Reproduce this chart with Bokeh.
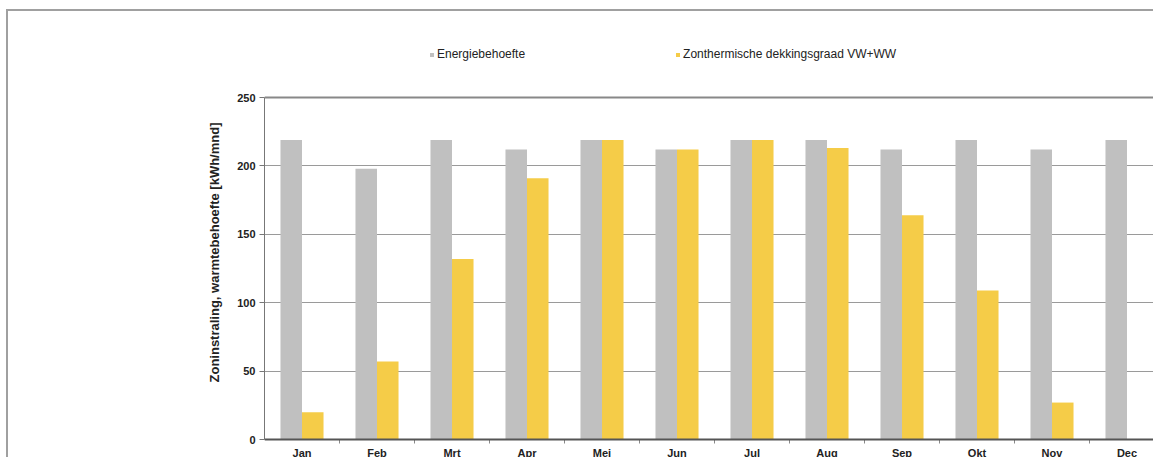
from bokeh.plotting import figure
from bokeh.models import Range1d, FixedTicker, Legend, LegendItem, Span, ColumnDataSource, Title
from bokeh.core.properties import value
from bokeh.transform import dodge
from bokeh.embed import file_html
from bokeh.resources import INLINE

months = ["Jan", "Feb", "Mrt", "Apr", "Mei", "Jun", "Jul", "Aug", "Sep", "Okt", "Nov", "Dec"]
energiebehoefte = [219, 198, 219, 212, 219, 212, 219, 219, 212, 219, 212, 219]
zonthermisch = [20, 57, 132, 191, 219, 212, 219, 213, 164, 109, 27, 0]
y_ticks = [0, 50, 100, 150, 200, 250]

FONT = "Liberation Sans"
GRAY = "#c0c0c0"
YELLOW = "#f5cc48"

src = ColumnDataSource(dict(
    x=[i + 0.5 for i in range(len(months))],
    month=months,
    e=energiebehoefte,
    z=zonthermisch,
))
bsrc = ColumnDataSource(dict(b=[i for i in range(1, len(months))]))

# pixel layout: figure from y=11 to 457, value 250 at y=97, value 0 at y=439
ppu = (439 - 97) / 250.0
y_end = 250 + (97 - 11) / ppu
y_start = -(457 - 439) / ppu

p = figure(width=1145, height=446,
           x_range=Range1d(0, 889 / 75), y_range=Range1d(y_start, y_end),
           x_axis_location=None,
           output_backend="svg", toolbar_location=None,
           min_border_left=256, min_border_right=0,
           min_border_top=0, min_border_bottom=0)
p.margin = (11, 0, 0, 8)
p.styles = {"outline": "2px solid #a0a0a0"}

bw = 0.287
r1 = p.vbar(x=dodge("x", -0.1435), top="e", width=bw, source=src, fill_color=GRAY, line_color=None)
r2 = p.vbar(x=dodge("x", 0.1435), top="z", width=bw, source=src, fill_color=YELLOW, line_color=None)

p.outline_line_color = None
p.add_layout(Span(location=250, dimension="width", line_color="#888888", line_width=2))

# grid
p.xgrid.grid_line_color = None
p.xgrid.visible = False
p.ygrid.ticker = FixedTicker(ticks=y_ticks)
p.ygrid.grid_line_color = "#9a9a9a"
p.ygrid.grid_line_width = 1
p.ygrid.bounds = (0, 250)

# x axis line, boundary ticks and month labels
p.add_layout(Span(location=0, dimension="width", line_color="#555555", line_width=2))
p.segment(x0="b", x1="b", y0=0, y1=-4 / ppu, source=bsrc, line_color="#888888", line_width=1)
p.text(x="x", y=0, text="month", source=src, y_offset=13,
       text_font=value(FONT), text_font_style="bold", text_font_size="11px",
       text_color="#222222", text_align="center", text_baseline="middle")

# y axis
ya = p.yaxis[0]
ya.ticker = FixedTicker(ticks=y_ticks)
ya.bounds = (0, 250)
ya.axis_line_color = "#777777"
ya.axis_line_width = 1
ya.major_tick_line_color = "#777777"
ya.major_tick_out = 5
ya.major_tick_in = 0
ya.minor_tick_line_color = None
ya.major_label_text_font = FONT
ya.major_label_text_font_style = "bold"
ya.major_label_text_font_size = "11px"
ya.major_label_text_color = "#222222"
ya.major_label_standoff = 4

ytitle = Title(text="Zoninstraling, warmtebehoefte [kWh/mnd]", align="left", offset=75,
               text_font=FONT, text_font_style="bold", text_font_size="13px",
               text_color="#222222", standoff=25)
p.add_layout(ytitle, "left")

legend = Legend(items=[LegendItem(label="Energiebehoefte", renderers=[r1]),
                       LegendItem(label="Zonthermische dekkingsgraad VW+WW", renderers=[r2])],
                orientation="horizontal", location=(165, 396),
                glyph_width=5, glyph_height=5, label_standoff=3, spacing=150,
                padding=0, margin=0, border_line_color=None, background_fill_alpha=0,
                label_text_font=FONT, label_text_font_size="12px", label_text_color="#222222")
p.add_layout(legend, "center")

open("out.html", "w").write(file_html(p, INLINE))
